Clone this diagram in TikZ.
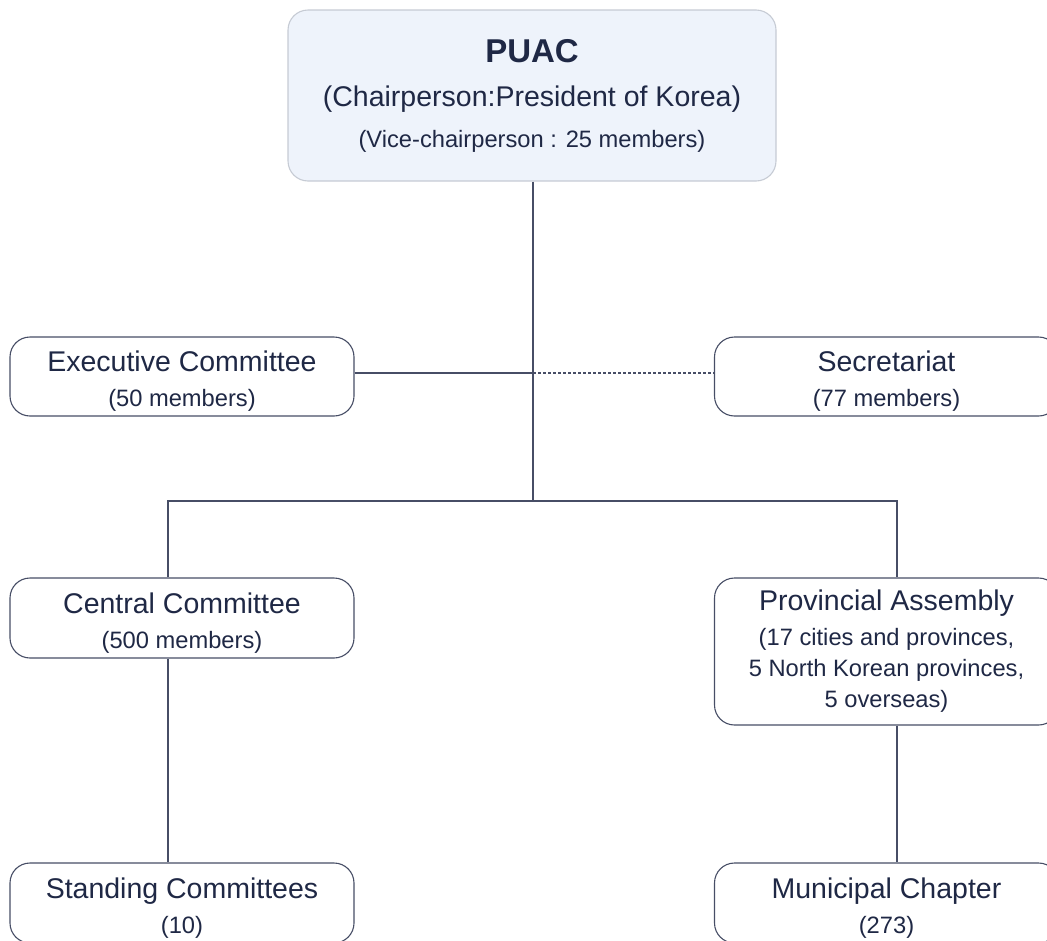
\documentclass[tikz,border=0pt]{standalone}
\usepackage{fontspec}
\setmainfont{Liberation Sans}
\definecolor{txt}{HTML}{1F2845}
\definecolor{ln}{HTML}{474E66}
\definecolor{topfill}{HTML}{EEF3FB}
\definecolor{topdraw}{HTML}{C6CBD4}
\newcommand\mainsz{\fontsize{28.5}{34}\selectfont}
\newcommand\subsz{\fontsize{23.7}{31}\selectfont}
\newcommand\lowstrut{\rule{0pt}{30pt}}
\tikzset{
  box/.style={draw=ln, line width=1.1pt, rounded corners=20pt, fill=white,
    minimum width=344pt, text=txt, align=center, inner sep=0pt, font=\subsz},
  topbox/.style={box, draw=topdraw, fill=topfill, minimum width=488pt, minimum height=171pt,
    font=\fontsize{23.7}{41}\selectfont},
  conn/.style={draw=ln, line width=1.5pt},
  dotconn/.style={draw=ln, line width=1.5pt, dash pattern=on 2.5pt off 2.5pt},
}
\begin{document}
\begin{tikzpicture}[x=1pt,y=-1pt]
\useasboundingbox (0,0) rectangle (1047,940);
\clip (0,0) rectangle (1047,940);
\node[topbox] (top) at (532,95.5) {{\bfseries\fontsize{33}{40}\selectfont PUAC}\\[3pt]{\mainsz (Chairperson:President of Korea)}\\(Vice-chairperson : 25 members)};
\node[box, minimum height=79pt] (exec) at (182,376.5) {{\mainsz\lowstrut Executive Committee}\\[4pt](50 members)};
\node[box, minimum height=79pt] (sec) at (886.5,376.5) {{\mainsz\lowstrut Secretariat}\\[4pt](77 members)};
\node[box, minimum height=80pt] (central) at (182,618) {{\mainsz\lowstrut Central Committee}\\[4pt](500 members)};
\node[box, minimum height=147pt] (prov) at (886.5,651.5) {{\mainsz Provincial Assembly}\\[4pt](17 cities and provinces,\\5 North Korean provinces,\\5 overseas)};
\node[box, minimum height=80pt] (standing) at (182,903) {{\mainsz\lowstrut Standing Committees}\\[4pt](10)};
\node[box, minimum height=80pt] (muni) at (886.5,903) {{\mainsz\lowstrut Municipal Chapter}\\[4pt](273)};
\coordinate (bus) at (533,501);
\coordinate (cl) at (168,501);
\coordinate (cr) at (897,501);
\coordinate (mid) at (533,373);
\draw[conn] (top.south -| bus) -- (bus);
\draw[conn] (exec.east |- mid) -- (mid);
\draw[dotconn] (mid) -- (sec.west |- mid);
\draw[conn] (cl |- central.north) -- (cl) -- (cr) -- (cr |- prov.north);
\draw[conn] (cl |- central.south) -- (cl |- standing.north);
\draw[conn] (cr |- prov.south) -- (cr |- muni.north);
\end{tikzpicture}
\end{document}
